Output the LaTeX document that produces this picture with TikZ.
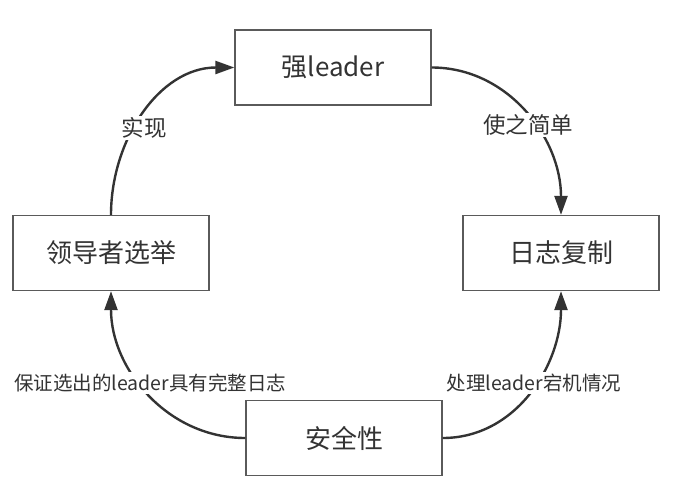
\documentclass[tikz,border=0pt]{standalone}
\usepackage{fontspec}
\setmainfont{Noto Sans CJK SC}
\usetikzlibrary{arrows.meta}
\definecolor{inkgray}{HTML}{333333}
\definecolor{boxgray}{HTML}{5A5A5A}
\begin{document}
\begin{tikzpicture}[x=1pt,y=-1pt,
  stagebox/.style={draw=boxgray,line width=1.3pt,fill=white,minimum width=196pt,minimum height=75pt,
    inner sep=0pt,text=inkgray,font=\fontsize{26}{30}\selectfont},
  flow/.style={draw=inkgray,line width=2.4pt,-{Triangle[length=19pt,width=13pt]}},
  toplabel/.style={fill=white,text=inkgray,inner sep=2pt,font=\fontsize{22.5}{26}\selectfont},
  lowlabel/.style={fill=white,text=inkgray,inner sep=2pt,font=\fontsize{19.5}{23}\selectfont}]
  \useasboundingbox (0,0) rectangle (684,490);
  % the four stages
  \node[stagebox] (strong) at (333,67.5) {强leader};
  \node[stagebox] (logrep) at (561,253) {日志复制};
  \node[stagebox] (elect)  at (111,253) {领导者选举};
  \node[stagebox] (safety) at (344,438) {安全性};
  % cycle of curved arrows
  \draw[flow] (elect.north) to[out=90,in=180] (strong.west);
  \draw[flow] (strong.east) to[out=0,in=90] (logrep.north);
  \draw[flow] (safety.east) to[out=0,in=-90] (logrep.south);
  \draw[flow] (safety.west) to[out=180,in=-90] (elect.south);
  % labels sitting on the arrows
  \node[toplabel] (lblA) at (144,128) {实现};
  \node[toplabel] (lblB) at (528,125) {使之简单};
  \node[lowlabel] (lblC) at (534,383) {处理leader宕机情况};
  \node[lowlabel] (lblD) at (150,383) {保证选出的leader具有完整日志};
\end{tikzpicture}
\end{document}
